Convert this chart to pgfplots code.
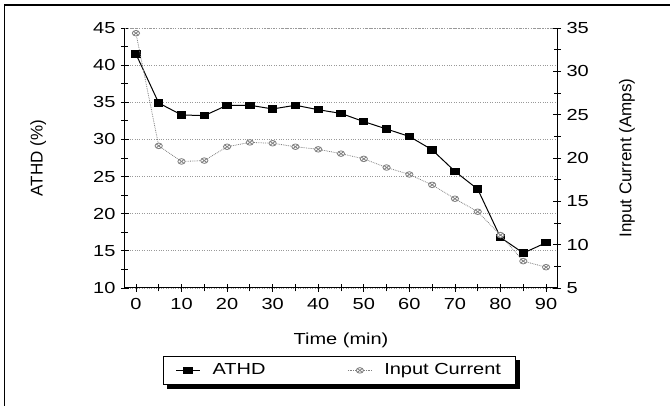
\documentclass[border=0pt]{standalone}
\usepackage{pgfplots}
\pgfplotsset{compat=1.18}
\usepackage{fontspec}
\setmainfont[FakeStretch=1.25]{Liberation Sans}
\newfontfamily\rotfont{Liberation Sans}
\pgfdeclarelayer{background}
\pgfsetlayers{background,main}
\begin{document}
\fontsize{16}{19}\selectfont
\begin{tikzpicture}[x=1pt,y=1pt]
\path[use as bounding box] (0,0) rectangle (670,406);
\draw[line width=1.5pt] (4.5,0) -- (4.5,401) -- (670,401);
\pgfplotsset{
  myaxis/.style={
    at={(125pt,118pt)}, anchor=south west,
    scale only axis, width=432pt, height=260pt,
    xmin=-2.4, xmax=92.4,
    /pgf/number format/assume math mode=true,
    tick style={black, line width=0.8pt},
    major tick length=8pt, minor tick length=7pt,
    tick label style={font=\fontsize{16}{19}\selectfont},
    axis line style={line width=1pt},
  }
}
\begin{axis}[myaxis,
  ymin=10, ymax=45,
  axis x line*=bottom, axis y line*=left,
  xtick={0,10,...,90}, minor xtick={5,15,...,85},
  ytick={10,15,...,45}, minor ytick={12.5,17.5,...,42.5},
  xtick align=center, ytick align=center,
  ymajorgrids, major grid style={gray!80, dotted, line width=0.8pt},
  xlabel={Time (min)}, ylabel={ATHD (\%)},
  xlabel style={at={(axis description cs:0.5,-0.2)}, anchor=center, font=\fontsize{16}{19}\selectfont},
  ylabel style={at={(axis description cs:-0.201,0.5)}, anchor=center, font=\rotfont\fontsize{17}{20}\selectfont},
  xticklabel style={yshift=-1pt},
]
\addplot[black, line width=1pt, mark=square*, mark size=3.2pt, mark options={xscale=1.3}]
coordinates {(0,41.5)(5,34.9)(10,33.3)(15,33.2)(20,34.6)(25,34.6)(30,34.1)(35,34.6)(40,34.0)(45,33.5)(50,32.4)(55,31.4)(60,30.4)(65,28.6)(70,25.7)(75,23.3)(80,16.8)(85,14.7)(90,16.1)};
\draw[gray!80, dotted, line width=0.8pt] (axis cs:-2.4,45) -- (axis cs:92.4,45);
\end{axis}
\begin{axis}[myaxis,
  ymin=5, ymax=35,
  axis x line=none, axis y line*=right,
  ytick={5,10,...,35}, minor ytick={7.5,12.5,...,32.5},
  ytick align=center,
  ylabel={Input Current (Amps)},
  ylabel style={at={(axis description cs:1.162,0.5)}, anchor=center, rotate=0, font=\rotfont\fontsize{17}{20}\selectfont},
  legend columns=2,
  legend image code/.code={\draw[mark repeat=2,mark phase=2,#1] plot coordinates {(0pt,0pt)(12pt,0pt)(24pt,0pt)};},
  legend style={name=leg, at={(axis description cs:0.088,-0.262)}, anchor=north west,
    draw=black, line width=1pt, fill=white,
    font=\fontsize{16}{19}\selectfont,
    /tikz/every odd column/.append style={column sep=10pt},
    /tikz/every even column/.append style={column sep=80pt},
    inner xsep=12pt, inner ysep=5pt, cells={anchor=west}},
]
\addlegendimage{black, line width=1pt, mark=square*, mark size=3.2pt, mark options={xscale=1.3}}
\addlegendentry{ATHD}
\addplot[gray, densely dotted, line width=0.8pt, mark=otimes*, mark size=2.8pt, mark options={solid, fill=white, draw=gray, xscale=1.3}]
coordinates {(0,34.4)(5,21.4)(10,19.6)(15,19.7)(20,21.3)(25,21.8)(30,21.7)(35,21.3)(40,21.0)(45,20.5)(50,19.9)(55,18.9)(60,18.1)(65,16.9)(70,15.3)(75,13.8)(80,11.1)(85,8.1)(90,7.4)};
\addlegendentry{Input Current}
\end{axis}
\begin{pgfonlayer}{background}
\fill[black] ([shift={(4pt,-4pt)}]leg.south west) rectangle ([shift={(4pt,-4pt)}]leg.north east);
\end{pgfonlayer}
\end{tikzpicture}
\end{document}
